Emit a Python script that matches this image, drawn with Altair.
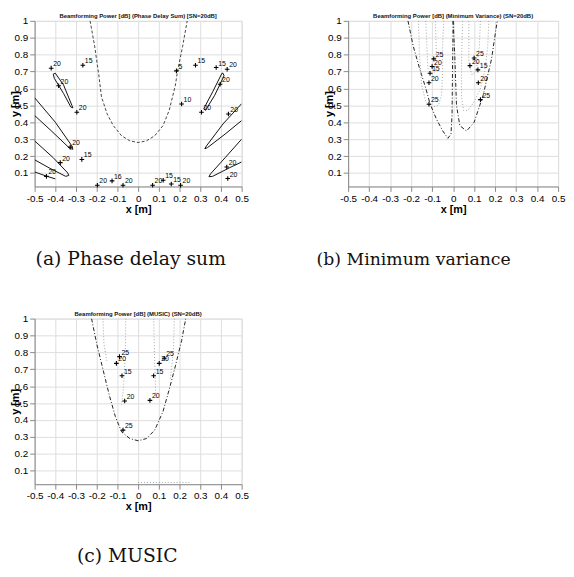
import altair as alt
import pandas as pd

# ---------------- data ----------------
# Panel (a) Phase delay sum contours
a_u_x = [-0.232, -0.21, -0.19, -0.177, -0.15, -0.12, -0.08, -0.04, 0.0, 0.04, 0.08, 0.12, 0.15, 0.18, 0.19, 0.215, 0.237]
a_u_y = [1.0, 0.85, 0.68, 0.55, 0.45, 0.38, 0.32, 0.29, 0.28, 0.29, 0.32, 0.38, 0.47, 0.62, 0.70, 0.85, 1.0]
a_l1_x = [-0.41, -0.40, -0.36, -0.32, -0.315, -0.325, -0.36, -0.405, -0.41]
a_l1_y = [0.685, 0.69, 0.62, 0.50, 0.485, 0.49, 0.57, 0.66, 0.685]
a_l2_x = [-0.5, -0.40, -0.32, -0.315, -0.33, -0.42, -0.5]
a_l2_y = [0.545, 0.40, 0.26, 0.24, 0.245, 0.35, 0.44]
a_l3_x = [-0.5, -0.41, -0.34, -0.335, -0.35, -0.43, -0.5]
a_l3_y = [0.29, 0.19, 0.10, 0.085, 0.08, 0.13, 0.178]
a_l4_x = [-0.5, -0.44, -0.40]
a_l4_y = [0.106, 0.08, 0.065]
a_r1_x = [0.41, 0.415, 0.37, 0.325, 0.317, 0.36, 0.405, 0.41]
a_r1_y = [0.69, 0.675, 0.56, 0.47, 0.48, 0.58, 0.69, 0.69]
a_r2_x = [0.5, 0.41, 0.33, 0.322, 0.335, 0.42, 0.5]
a_r2_y = [0.51, 0.39, 0.26, 0.243, 0.25, 0.33, 0.41]
a_r3_x = [0.5, 0.42, 0.35, 0.342, 0.36, 0.44, 0.5]
a_r3_y = [0.30, 0.19, 0.095, 0.078, 0.08, 0.13, 0.165]

a_lab_x = [-0.42, -0.267, -0.384, -0.296, -0.328, -0.376, -0.272, -0.443, -0.197, -0.126, -0.073,
           0.07, 0.121, 0.16, 0.205, 0.185, 0.277, 0.21, 0.377, 0.43, 0.396, 0.306, 0.436, 0.428, 0.433]
a_lab_y = [0.72, 0.737, 0.616, 0.459, 0.253, 0.161, 0.18, 0.08, 0.027, 0.053, 0.027,
           0.027, 0.057, 0.035, 0.027, 0.704, 0.737, 0.508, 0.724, 0.714, 0.625, 0.459, 0.449, 0.135, 0.067]
a_lab_t = ["20", "15", "20", "20", "20", "20", "15", "20", "20", "16", "20",
           "20", "15", "15", "20", "5", "15", "10", "15", "20", "20", "20", "20", "20", "20"]

# Panel (b) Minimum variance contours
b_l_x = [-0.215, -0.19, -0.16, -0.13, -0.11, -0.08, -0.05, -0.025, -0.01, -0.005, -0.003, 0.0]
b_l_y = [1.0, 0.85, 0.72, 0.60, 0.51, 0.42, 0.35, 0.305, 0.33, 0.45, 0.70, 1.0]
b_r_x = [0.0, 0.008, 0.016, 0.032, 0.064, 0.10, 0.127, 0.143, 0.183, 0.21]
b_r_y = [1.0, 0.79, 0.50, 0.38, 0.348, 0.40, 0.50, 0.56, 0.775, 1.0]
b_d1_x = [-0.165, -0.16, -0.15, -0.13, -0.10, -0.07, -0.055, -0.05, -0.05, -0.045]
b_d1_y = [1.0, 0.80, 0.62, 0.52, 0.49, 0.50, 0.56, 0.70, 0.85, 1.0]
b_d2_x = [-0.13, -0.125, -0.12, -0.105, -0.085, -0.08, -0.085]
b_d2_y = [1.0, 0.85, 0.72, 0.68, 0.70, 0.82, 1.0]
b_d3_x = [0.17, 0.165, 0.15, 0.13, 0.10, 0.07, 0.05, 0.04, 0.04, 0.045]
b_d3_y = [1.0, 0.85, 0.70, 0.60, 0.52, 0.47, 0.47, 0.55, 0.75, 1.0]
b_d4_x = [0.13, 0.125, 0.11, 0.09, 0.075, 0.075]
b_d4_y = [1.0, 0.85, 0.70, 0.68, 0.75, 1.0]

b_lab_x = [-0.115, -0.115, -0.11, -0.10, -0.092, 0.08, 0.10, 0.118, 0.12, 0.13]
b_lab_y = [0.507, 0.634, 0.69, 0.73, 0.775, 0.735, 0.78, 0.71, 0.634, 0.534]
b_lab_t = ["25", "20", "15", "20", "25", "20", "25", "15", "20", "25"]

# Panel (c) MUSIC contours
c_u_x = [-0.225, -0.2, -0.17, -0.14, -0.11, -0.08, -0.04, 0.0, 0.04, 0.08, 0.12, 0.15, 0.18, 0.21, 0.23]
c_u_y = [1.0, 0.85, 0.70, 0.55, 0.42, 0.33, 0.29, 0.277, 0.29, 0.34, 0.45, 0.58, 0.72, 0.87, 1.0]
c_d1_x = [-0.17, -0.165, -0.15]
c_d1_y = [1.0, 0.85, 0.74]
c_d2_x = [-0.06, -0.062, -0.07, -0.08]
c_d2_y = [1.0, 0.80, 0.60, 0.49]
c_d3_x = [0.175, 0.17, 0.155]
c_d3_y = [1.0, 0.80, 0.64]
c_d4_x = [0.075, 0.08, 0.085]
c_d4_y = [1.0, 0.75, 0.54]
c_d5_x = [0.0, 0.25]
c_d5_y = [0.03, 0.03]

c_lab_x = [-0.105, -0.09, 0.102, 0.126, -0.078, 0.075, -0.065, 0.057, -0.073]
c_lab_y = [0.735, 0.775, 0.735, 0.765, 0.662, 0.662, 0.512, 0.516, 0.34]
c_lab_t = ["20", "25", "20", "25", "15", "15", "20", "20", "25"]

x_ticks = [-0.5, -0.4, -0.3, -0.2, -0.1, 0.0, 0.1, 0.2, 0.3, 0.4, 0.5]
y_ticks = [0.1, 0.2, 0.3, 0.4, 0.5, 0.6, 0.7, 0.8, 0.9, 1.0]

titles = ["Beamforming Power [dB] (Phase Delay Sum) [SN=20dB]",
          "Beamforming Power [dB] (Minimum Variance) (SN=20dB)",
          "Beamforming Power [dB] (MUSIC) (SN=20dB)"]
captions = ["(a) Phase delay sum", "(b) Minimum variance", "(c) MUSIC"]

LABEL_EXPR = "(datum.value < -0.001 ? '-' : '') + format(abs(datum.value), '.1~f')"


def lines_df(items):
    rows = []
    for cid, (xs, ys) in enumerate(items):
        for i, (x, y) in enumerate(zip(xs, ys)):
            rows.append({"id": cid, "o": i, "x": x, "y": y})
    return pd.DataFrame(rows)


def panel(w, h, title, caption, cap_x, cap_y, cap_size, solid, dashed, dashdot, dotted, lx, ly, lt):
    xs = alt.Scale(domain=[-0.5, 0.5], nice=False, zero=False)
    ys = alt.Scale(domain=[0.02, 1.0], nice=False, zero=False)
    xenc = alt.X("x:Q", scale=xs, axis=alt.Axis(values=x_ticks, labelExpr=LABEL_EXPR, title="x [m]",
                                               labelOverlap=False, labelFlush=False, titlePadding=0))
    yenc = alt.Y("y:Q", scale=ys, axis=alt.Axis(values=y_ticks, labelExpr=LABEL_EXPR, title="y [m]",
                                               labelFlush=False, labelOverlap=False,
                                               titleX=-19, titleY=h / 2, titleAlign="center",
                                               titleBaseline="middle", titleAngle=270))
    layers = []
    specs = [(solid, dict(color="#111", strokeWidth=1.0)),
             (dashed, dict(color="#444", strokeWidth=1.0, strokeDash=[3, 2])),
             (dashdot, dict(color="#222", strokeWidth=1.0, strokeDash=[4, 2, 1, 2])),
             (dotted, dict(color="#999", strokeWidth=0.9, strokeDash=[1, 2]))]
    for items, style in specs:
        if not items:
            continue
        layers.append(alt.Chart(lines_df(items)).mark_line(clip=True, **style).encode(
            x=xenc, y=yenc, detail="id:N", order="o:Q"))
    lab = pd.DataFrame({"x": lx, "y": ly, "t": lt})
    layers.append(alt.Chart(lab).mark_point(shape="M-1,0L1,0M0,-1L0,1", size=22, color="#000",
                                            strokeWidth=1.1, opacity=1).encode(x=xenc, y=yenc))
    layers.append(alt.Chart(lab).mark_text(fontSize=7, dx=2, dy=-4, align="left", color="#000",
                                           font="Liberation Sans").encode(x=xenc, y=yenc, text="t:N"))
    cap = pd.DataFrame({"t": [caption]})
    layers.append(alt.Chart(cap).mark_text(fontSize=cap_size, font="DejaVu Serif", align="left",
                                           baseline="alphabetic", color="#111").encode(
        text="t:N", x=alt.value(cap_x), y=alt.value(cap_y)))
    ttl = pd.DataFrame({"t": [title]})
    layers.append(alt.Chart(ttl).mark_text(fontSize=6, font="Liberation Sans", fontWeight="bold",
                                           align="center", baseline="middle", color="#111").encode(
        text="t:N", x=alt.value(w / 2), y=alt.value(-5)))
    return alt.layer(*layers).properties(width=w, height=h)


pa = panel(210, 168, titles[0], captions[0], 1, 248, 19,
           [(a_l1_x, a_l1_y), (a_l2_x, a_l2_y), (a_l3_x, a_l3_y), (a_l4_x, a_l4_y),
            (a_r1_x, a_r1_y), (a_r2_x, a_r2_y), (a_r3_x, a_r3_y)],
           [(a_u_x, a_u_y)], [], [], a_lab_x, a_lab_y, a_lab_t)
pb = panel(213, 168, titles[1], captions[1], -32, 248, 17.5,
           [], [], [(b_l_x, b_l_y), (b_r_x, b_r_y)],
           [(b_d1_x, b_d1_y), (b_d2_x, b_d2_y), (b_d3_x, b_d3_y), (b_d4_x, b_d4_y)],
           b_lab_x, b_lab_y, b_lab_t)
pc = panel(210, 168, titles[2], captions[2], 43, 247, 19,
           [], [], [(c_u_x, c_u_y)],
           [(c_d1_x, c_d1_y), (c_d2_x, c_d2_y), (c_d3_x, c_d3_y), (c_d4_x, c_d4_y), (c_d5_x, c_d5_y)],
           c_lab_x, c_lab_y, c_lab_t)

chart = alt.concat(pa, pb, pc, columns=2, spacing=alt.RowColnumber(row=134, column=108),
                   bounds="flush").properties(
    padding={"left": 1, "top": 0, "right": 0, "bottom": 0}
).configure_view(stroke="#000", strokeWidth=1).configure_axis(
    labelFontSize=6.5, titleFontSize=7, labelFont="Liberation Sans", titleFont="Liberation Sans",
    titleFontWeight="normal", grid=False, tickSize=3, tickColor="#000", domainColor="#000",
    labelColor="#000", titleColor="#000", labelPadding=1, titlePadding=1
).configure(background="white")

chart.save("out.html", embed_options={"renderer": "svg", "actions": False})
